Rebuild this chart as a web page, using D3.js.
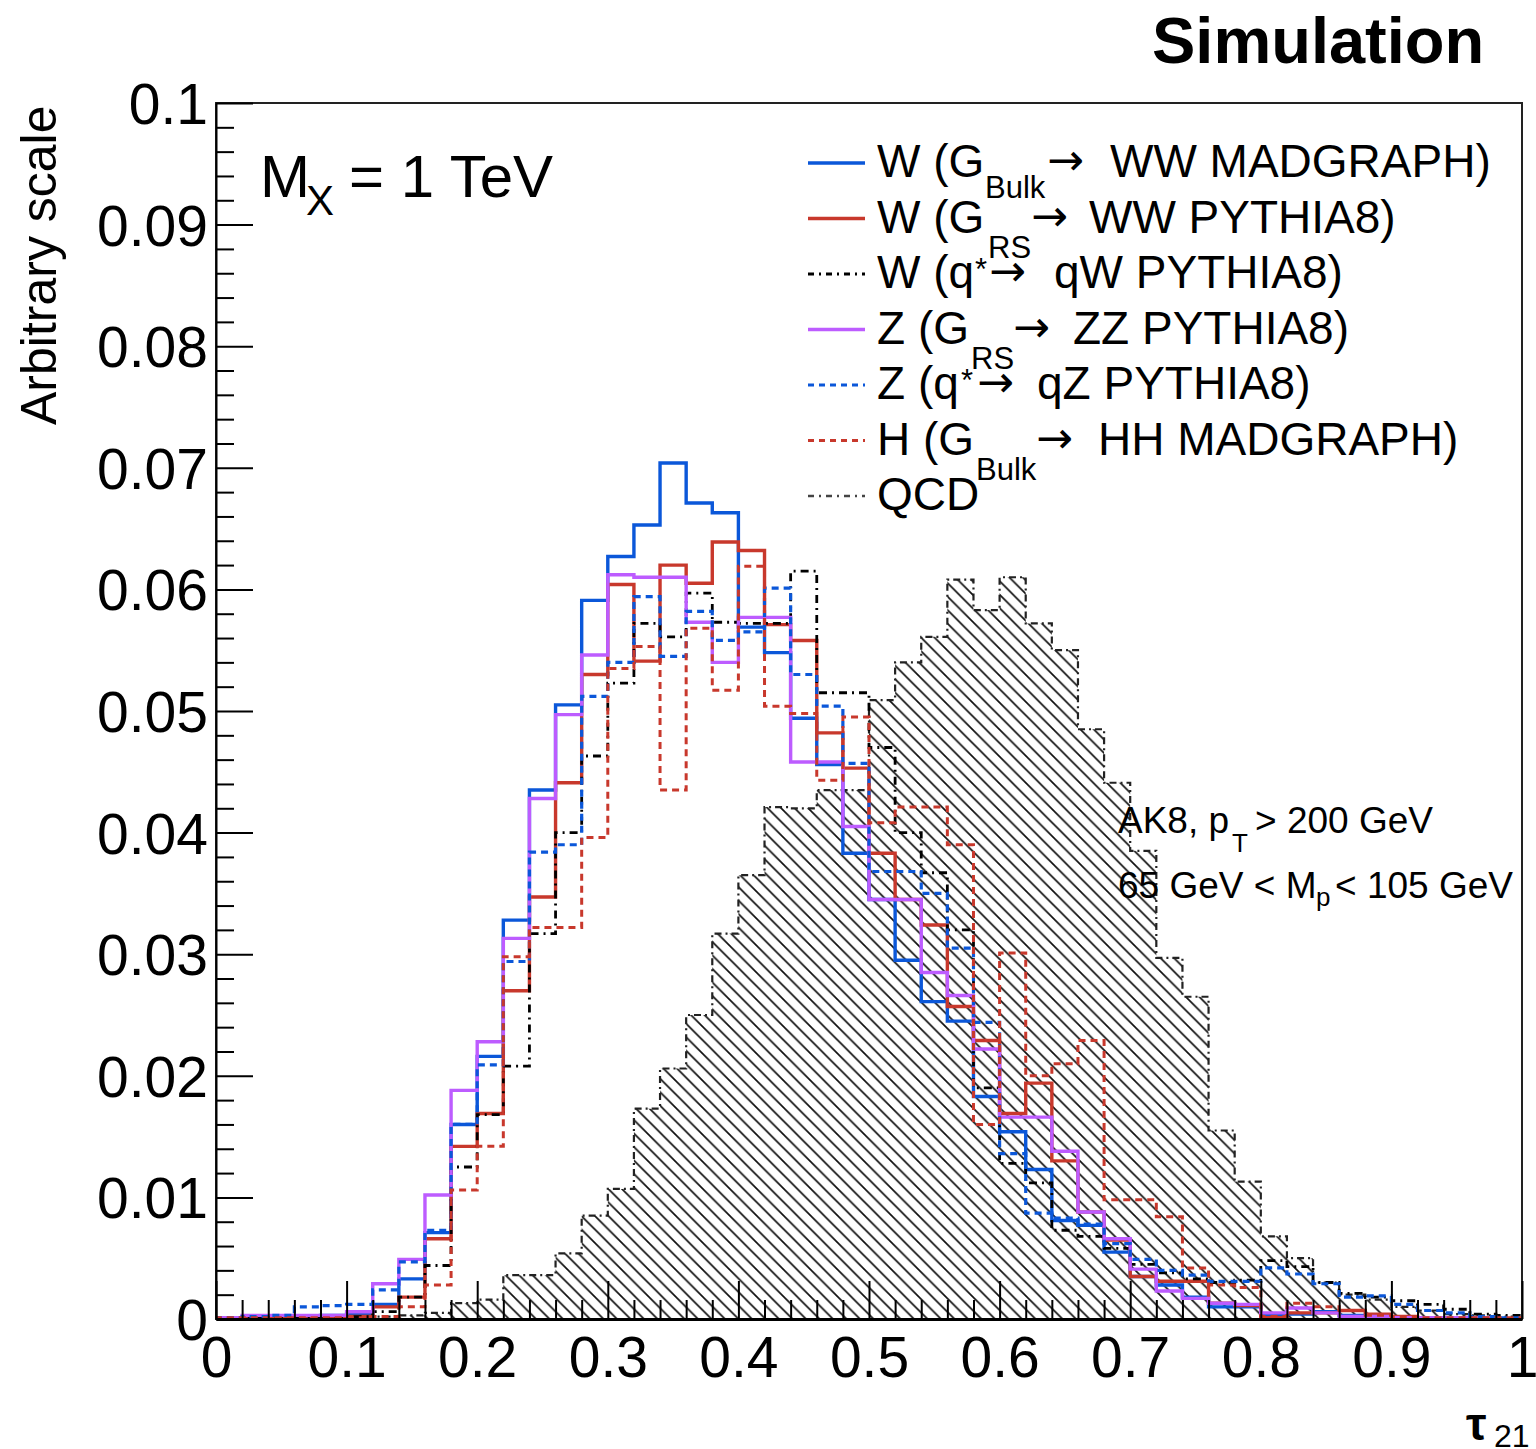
<!DOCTYPE html>
<html>
<head>
<meta charset="utf-8">
<script src="https://cdn.jsdelivr.net/npm/d3@7"></script>
<style>
  html, body { margin: 0; padding: 0; background: #fff; }
  svg { display: block; }
  text { font-family: "Liberation Sans", Arial, Helvetica, sans-serif; fill: #000; }
</style>
</head>
<body>
<svg id="chart" width="1536" height="1449"></svg>
<script>
// ---------------- DATA (50 bins of width 0.02 in tau21) ----------------
const binWidth = 0.02;
const nBins = 50;

const wBulkMadgraph = [0.0001,0.0001,0.0002,0.0002,0.0003,0.0004,0.0012,0.0033,0.0071,0.0160,
  0.0216,0.0328,0.0435,0.0505,0.0591,0.0627,0.0653,0.0704,0.0671,0.0663,
  0.0569,0.0548,0.0494,0.0456,0.0383,0.0345,0.0295,0.0261,0.0245,0.0183,
  0.0154,0.0123,0.0081,0.0077,0.0055,0.0035,0.0028,0.0018,0.0010,0.0010,
  0.0003,0.0004,0.0006,0.0003,0.0002,0.0001,0.0001,0.0001,0.0001,0.0000];

const wRSPythia = [0.0001,0.0001,0.0001,0.0001,0.0001,0.0002,0.0010,0.0018,0.0066,0.0142,
  0.0169,0.0270,0.0347,0.0441,0.0530,0.0604,0.0541,0.0620,0.0605,0.0639,
  0.0632,0.0571,0.0558,0.0482,0.0453,0.0383,0.0345,0.0324,0.0257,0.0229,
  0.0169,0.0194,0.0130,0.0088,0.0065,0.0035,0.0031,0.0031,0.0013,0.0011,
  0.0001,0.0005,0.0005,0.0007,0.0004,0.0002,0.0001,0.0001,0.0001,0.0000];

const wQstarPythia = [0.0001,0.0001,0.0001,0.0001,0.0001,0.0002,0.0006,0.0018,0.0044,0.0125,
  0.0168,0.0208,0.0317,0.0400,0.0463,0.0523,0.0572,0.0561,0.0597,0.0573,
  0.0572,0.0572,0.0615,0.0515,0.0515,0.0470,0.0400,0.0367,0.0320,0.0190,
  0.0128,0.0112,0.0073,0.0068,0.0058,0.0045,0.0038,0.0033,0.0030,0.0032,
  0.0048,0.0043,0.0030,0.0021,0.0018,0.0015,0.0012,0.0008,0.0004,0.0003];

const zRSPythia = [0.0001,0.0003,0.0003,0.0003,0.0003,0.0006,0.0029,0.0049,0.0102,0.0188,
  0.0228,0.0313,0.0428,0.0497,0.0546,0.0612,0.0610,0.0610,0.0573,0.0540,
  0.0577,0.0577,0.0458,0.0458,0.0405,0.0345,0.0345,0.0285,0.0266,0.0222,
  0.0166,0.0166,0.0138,0.0088,0.0066,0.0041,0.0023,0.0017,0.0013,0.0012,
  0.0005,0.0009,0.0005,0.0002,0.0002,0.0001,0.0001,0.0001,0.0001,0.0000];

const zQstarPythia = [0.0001,0.0002,0.0003,0.0010,0.0011,0.0012,0.0024,0.0047,0.0073,0.0160,
  0.0209,0.0294,0.0384,0.0390,0.0512,0.0540,0.0594,0.0545,0.0582,0.0558,
  0.0565,0.0601,0.0530,0.0504,0.0457,0.0368,0.0368,0.0350,0.0305,0.0244,
  0.0136,0.0087,0.0083,0.0078,0.0062,0.0049,0.0040,0.0036,0.0031,0.0031,
  0.0042,0.0037,0.0029,0.0018,0.0019,0.0012,0.0007,0.0005,0.0002,0.0001];

const hBulkMadgraph = [0.0001,0.0001,0.0001,0.0001,0.0001,0.0001,0.0002,0.0010,0.0028,0.0106,
  0.0142,0.0298,0.0322,0.0322,0.0396,0.0535,0.0553,0.0435,0.0568,0.0517,
  0.0619,0.0504,0.0498,0.0443,0.0495,0.0408,0.0421,0.0421,0.0390,0.0160,
  0.0301,0.0200,0.0210,0.0229,0.0098,0.0098,0.0084,0.0042,0.0028,0.0026,
  0.0002,0.0013,0.0010,0.0007,0.0003,0.0002,0.0001,0.0001,0.0001,0.0001];

const qcd = [0.0000,0.0000,0.0000,0.0000,0.0001,0.0001,0.0002,0.0003,0.0005,0.0013,
  0.0016,0.0036,0.0036,0.0054,0.0085,0.0107,0.0173,0.0206,0.0250,0.0317,
  0.0365,0.0421,0.0420,0.0435,0.0435,0.0509,0.0540,0.0561,0.0608,0.0583,
  0.0610,0.0572,0.0550,0.0485,0.0441,0.0385,0.0297,0.0265,0.0155,0.0113,
  0.0068,0.0050,0.0030,0.0020,0.0016,0.0010,0.0007,0.0004,0.0003,0.0002];

const xTickValues = [0,0.1,0.2,0.3,0.4,0.5,0.6,0.7,0.8,0.9,1];
const xTickLabels = ["0","0.1","0.2","0.3","0.4","0.5","0.6","0.7","0.8","0.9","1"];
const yTickValues = [0,0.01,0.02,0.03,0.04,0.05,0.06,0.07,0.08,0.09,0.1];
const yTickLabels = ["0","0.01","0.02","0.03","0.04","0.05","0.06","0.07","0.08","0.09","0.1"];

// ---------------- LAYOUT ----------------
const svg = d3.select("#chart");
const L = 216, R = 1522, T = 103, B = 1319;
const x = d3.scaleLinear().domain([0, 1]).range([L, R]);
const y = d3.scaleLinear().domain([0, 0.1]).range([B, T]);

const COL_BLUE = "#0b57d9";
const COL_RED = "#c8382c";
const COL_PURPLE = "#bd5cff";

const series = [
  { name: "wBulk", values: wBulkMadgraph, color: COL_BLUE, width: 3.4, dash: null },
  { name: "wRS", values: wRSPythia, color: COL_RED, width: 3.4, dash: null },
  { name: "wQ", values: wQstarPythia, color: "#000", width: 2.8, dash: "8,5,2,5" },
  { name: "zRS", values: zRSPythia, color: COL_PURPLE, width: 3.4, dash: null },
  { name: "zQ", values: zQstarPythia, color: COL_BLUE, width: 3.2, dash: "7,5" },
  { name: "hBulk", values: hBulkMadgraph, color: COL_RED, width: 3, dash: "7,5" }
];

// defs: clip + hatch pattern
const defs = svg.append("defs");
defs.append("clipPath").attr("id", "plotclip")
  .append("rect").attr("x", L).attr("y", T).attr("width", R - L).attr("height", B - T);
const hp = 13.5;
defs.append("pattern").attr("id", "hatch")
  .attr("patternUnits", "userSpaceOnUse").attr("width", hp).attr("height", hp)
  .append("path")
  .attr("d", `M-1,-1L${hp+1},${hp+1}M-1,${hp-1}L1,${hp+1}M${hp-1},-1L${hp+1},1`)
  .attr("stroke", "#111").attr("stroke-width", 1.7).attr("fill", "none");

function stepPoints(vals) {
  const pts = [[0, 0]];
  vals.forEach((v, i) => pts.push([i * binWidth, v]));
  pts.push([nBins * binWidth, vals[vals.length - 1]]);
  pts.push([nBins * binWidth, 0]);
  return pts;
}

const plot = svg.append("g").attr("clip-path", "url(#plotclip)");

// QCD hatched area
const qcdPts = stepPoints(qcd);
plot.append("path")
  .attr("d", d3.area().curve(d3.curveStepAfter).x(d => x(d[0])).y0(y(0)).y1(d => y(d[1]))(qcdPts))
  .attr("fill", "url(#hatch)").attr("stroke", "none");
plot.append("path")
  .attr("d", d3.line().curve(d3.curveStepAfter).x(d => x(d[0])).y(d => y(d[1]))(qcdPts))
  .attr("fill", "none").attr("stroke", "#222").attr("stroke-width", 2.2)
  .attr("stroke-dasharray", "7,4,2,4");

// signal histograms
const line = d3.line().curve(d3.curveStepAfter).x(d => x(d[0])).y(d => y(d[1]));
series.forEach(s => {
  plot.append("path")
    .attr("d", line(stepPoints(s.values)))
    .attr("fill", "none")
    .attr("stroke", s.color)
    .attr("stroke-width", s.width)
    .attr("stroke-dasharray", s.dash);
});

// frame
svg.append("rect").attr("x", L).attr("y", T).attr("width", R - L).attr("height", B - T)
  .attr("fill", "none").attr("stroke", "#222").attr("stroke-width", 2);

// ---------------- AXES ----------------
const yMinor = d3.range(0, 51).map(i => i * 0.002).filter(v => Math.round(v * 1000) % 10 !== 0);
const xMinor = d3.range(0, 51).map(i => i * 0.02).filter(v => Math.round(v * 100) % 10 !== 0);

const yAxis = d3.axisLeft(y).tickValues(yTickValues)
  .tickFormat((d, i) => yTickLabels[i]).tickSizeInner(-37).tickSizeOuter(0).tickPadding(8);
const gy = svg.append("g").attr("transform", `translate(${L},0)`).call(yAxis);
gy.selectAll("text").style("font-size", "57px").attr("dy", "0.36em");
gy.select(".domain").attr("stroke", "#000").attr("stroke-width", 2);
gy.selectAll(".tick line").attr("stroke", "#000").attr("stroke-width", 2);

const yAxisMinor = d3.axisLeft(y).tickValues(yMinor).tickFormat("").tickSizeInner(-18).tickSizeOuter(0);
const gym = svg.append("g").attr("transform", `translate(${L},0)`).call(yAxisMinor);
gym.select(".domain").remove();
gym.selectAll(".tick line").attr("stroke", "#000").attr("stroke-width", 2);

const xAxis = d3.axisBottom(x).tickValues(xTickValues)
  .tickFormat((d, i) => xTickLabels[i]).tickSizeInner(-38).tickSizeOuter(0).tickPadding(18);
const gx = svg.append("g").attr("transform", `translate(0,${B})`).call(xAxis);
gx.selectAll("text").style("font-size", "57px");
gx.select(".domain").attr("stroke", "#000").attr("stroke-width", 3);
gx.selectAll(".tick line").attr("stroke", "#000").attr("stroke-width", 2);

const xAxisMinor = d3.axisBottom(x).tickValues(xMinor).tickFormat("").tickSizeInner(-19).tickSizeOuter(0);
const gxm = svg.append("g").attr("transform", `translate(0,${B})`).call(xAxisMinor);
gxm.select(".domain").remove();
gxm.selectAll(".tick line").attr("stroke", "#000").attr("stroke-width", 2);

// axis titles
svg.append("text").attr("transform", "translate(56,425) rotate(-90)")
  .style("font-size", "50px").text("Arbitrary scale");

const xt = svg.append("text").attr("x", 1466).attr("y", 1440);
xt.append("tspan").style("font-size", "46px").style("font-weight", "bold").text("τ");
xt.append("tspan").attr("x", 1494).attr("y", 1447).style("font-size", "32px").text("21");

// ---------------- TITLES / ANNOTATIONS ----------------
svg.append("text").attr("x", 1152).attr("y", 63)
  .style("font-size", "65px").style("font-weight", "bold").text("Simulation");

const mx = svg.append("text").attr("x", 260).attr("y", 197).style("font-size", "60px");
mx.append("tspan").text("M");
mx.append("tspan").attr("x", 306).attr("y", 215).style("font-size", "42px").text("X");
mx.append("tspan").attr("x", 349).attr("y", 197).text("= 1 TeV");

const a1 = svg.append("text").attr("x", 1118).attr("y", 833).style("font-size", "37px");
a1.append("tspan").text("AK8, p");
a1.append("tspan").attr("x", 1232).attr("y", 852).style("font-size", "26px").text("T");
a1.append("tspan").attr("x", 1255).attr("y", 833).text("> 200 GeV");

const a2 = svg.append("text").attr("x", 1118).attr("y", 898).style("font-size", "37px");
a2.append("tspan").text("65 GeV < M");
a2.append("tspan").attr("x", 1316).attr("y", 906).style("font-size", "26px").text("p");
a2.append("tspan").attr("x", 1335).attr("y", 898).text("< 105 GeV");

// ---------------- LEGEND ----------------
const legendRows = [
  { color: COL_BLUE, width: 3.4, dash: null, parts: [
    { t: "W (G", x: 877 }, { t: "Bulk", x: 985, dy: 21, sub: true }, { t: "→", x: 1047, arrow: true }, { t: "WW MADGRAPH)", x: 1110 } ] },
  { color: COL_RED, width: 3.4, dash: null, parts: [
    { t: "W (G", x: 877 }, { t: "RS", x: 988, dy: 25, sub: true }, { t: "→", x: 1031, arrow: true }, { t: "WW PYTHIA8)", x: 1089 } ] },
  { color: "#000", width: 2.8, dash: "6,5,2,5", parts: [
    { t: "W (q", x: 877 }, { t: "*", x: 975, dy: -8, sub: true }, { t: "→", x: 989, arrow: true }, { t: "qW PYTHIA8)", x: 1054 } ] },
  { color: COL_PURPLE, width: 3.4, dash: null, parts: [
    { t: "Z (G", x: 877 }, { t: "RS", x: 971, dy: 25, sub: true }, { t: "→", x: 1013, arrow: true }, { t: "ZZ PYTHIA8)", x: 1073 } ] },
  { color: COL_BLUE, width: 3.2, dash: "6,5", parts: [
    { t: "Z (q", x: 877 }, { t: "*", x: 961, dy: -8, sub: true }, { t: "→", x: 977, arrow: true }, { t: "qZ PYTHIA8)", x: 1037 } ] },
  { color: COL_RED, width: 3, dash: "6,5", parts: [
    { t: "H (G", x: 877 }, { t: "Bulk", x: 976, dy: 25, sub: true }, { t: "→", x: 1036, arrow: true }, { t: "HH MADGRAPH)", x: 1098 } ] },
  { color: "#444", width: 2.6, dash: "6,5,2,5", parts: [ { t: "QCD", x: 877 } ] }
];
const legY0 = 177, legDY = 55.5;
legendRows.forEach((row, i) => {
  const by = legY0 + i * legDY;
  svg.append("line").attr("x1", 808).attr("x2", 865).attr("y1", by - 14).attr("y2", by - 14)
    .attr("stroke", row.color).attr("stroke-width", row.width).attr("stroke-dasharray", row.dash);
  const t = svg.append("text").attr("y", by).style("font-size", "46px");
  row.parts.forEach(p => {
    const ts = t.append("tspan").attr("x", p.x).attr("y", by + (p.dy || 0)).text(p.t);
    if (p.sub) ts.style("font-size", "31px");
    if (p.arrow) ts.style("font-family", "DejaVu Sans").style("font-size", "44px").attr("y", by - 2);
  });
});
</script>
</body>
</html>
